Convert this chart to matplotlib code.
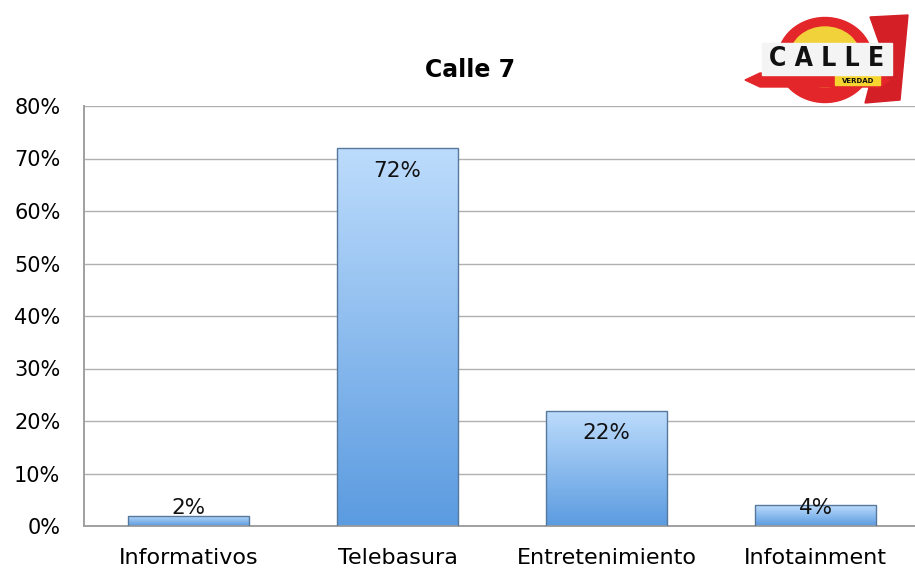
import matplotlib
matplotlib.use("Agg")
import matplotlib.pyplot as plt
import numpy as np
from matplotlib.patches import Ellipse, Rectangle, Polygon
from matplotlib.colors import LinearSegmentedColormap

categories = ["Informativos", "Telebasura", "Entretenimiento", "Infotainment"]
values = [2, 72, 22, 4]
yticks = [0, 10, 20, 30, 40, 50, 60, 70, 80]
title = "Calle 7"

plt.rcParams['font.family'] = ['DejaVu Sans']

fig = plt.figure(figsize=(9.15, 5.7), dpi=100)
ax = fig.add_axes([84/915, 44/570, (920-84)/915, (526-106)/570])

x = np.arange(len(categories))
width = 0.575
bars = ax.bar(x, values, width=width, color='none', edgecolor='#55789c', linewidth=1.0, zorder=3)

grad = np.linspace(0, 1, 256).reshape(-1, 1)
cmap = LinearSegmentedColormap.from_list('b', ['#5b9be0', '#bddcfc'])
for b in bars:
    x0, y0 = b.get_x(), b.get_y()
    w, h = b.get_width(), b.get_height()
    im = ax.imshow(grad, extent=[x0, x0 + w, y0, y0 + h], origin='lower', aspect='auto',
                   cmap=cmap, zorder=2)
    im.set_clip_path(b)

ax.set_xlim(-0.5, 3.5)
ax.set_ylim(0, 80)

for xi, v in zip(x, values):
    ypos = max(v - 4.3, 3.4)
    ax.text(xi, ypos, f"{v}%", ha='center', va='center', fontsize=15.5, color='#111111', zorder=4)

ax.set_yticks(yticks)
ax.set_yticklabels([f"{t}%" for t in yticks], fontsize=15)
ax.set_xticks(x)
ax.set_xticklabels(categories, fontsize=16)
ax.tick_params(axis='x', length=0, pad=16)
ax.tick_params(axis='y', length=0, pad=17)
ax.grid(axis='y', color='#b0b0b0', linewidth=1.0, zorder=0)
ax.set_axisbelow(True)
for s in ['top', 'right']:
    ax.spines[s].set_visible(False)
for s in ['left', 'bottom']:
    ax.spines[s].set_color('#a0a0a0')
    ax.spines[s].set_linewidth(1.4)

fig.text(470/915, 1 - 70/570, title, ha='center', va='center', fontsize=17, fontweight='bold')

# logo approximation
lax = fig.add_axes([740/915, 1 - 105/570, 175/915, 100/570])
lax.set_xlim(0, 175)
lax.set_ylim(100, 0)
lax.axis('off')
lax.add_patch(Ellipse((85, 55), 95, 85, color='#e3262a'))
lax.add_patch(Ellipse((85, 52), 70, 60, color='#f2d23a'))
lax.add_patch(Polygon([[130, 12], [168, 10], [160, 95], [125, 98], [140, 40]], closed=True, color='#d41f26'))
lax.add_patch(Polygon([[5, 75], [20, 68], [140, 68], [150, 75], [140, 82], [20, 82]], closed=True, color='#e3262a'))
lax.add_patch(Rectangle((95, 70), 45, 10, color='#f7d531'))
lax.add_patch(Rectangle((22, 38), 130, 32, color='#f4f4f4'))
lax.text(87, 54, "C A L L E", ha='center', va='center', fontsize=19, fontweight='bold',
         family=['DejaVu Sans'], color='#111111', fontstretch='condensed')
lax.text(118, 76, "VERDAD", ha='center', va='center', fontsize=5, fontweight='bold', color='#111111')

fig.savefig("out.png", dpi=100, facecolor='white')
